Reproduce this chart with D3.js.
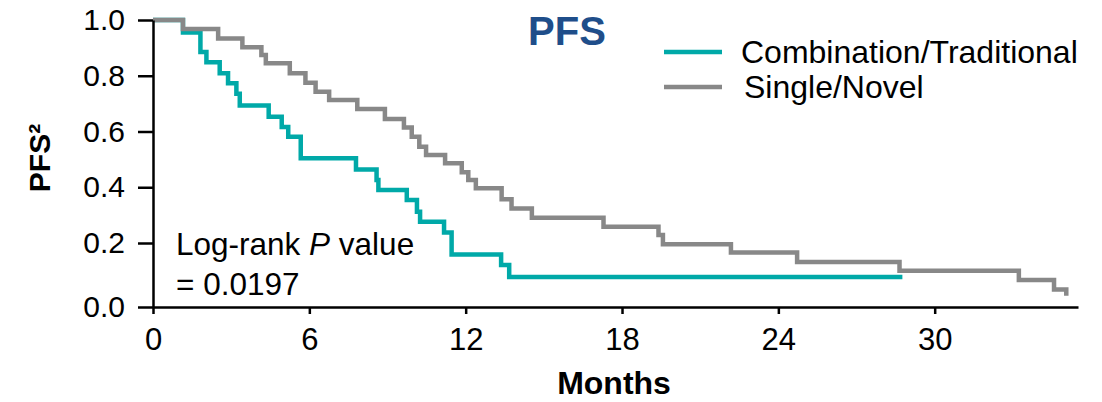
<!DOCTYPE html>
<html>
<head>
<meta charset="utf-8">
<script src="https://cdn.jsdelivr.net/npm/d3@7"></script>
<style>
    body { margin: 0; background: #fff; }
    svg { display: block; font-family: "Liberation Sans", Arial, sans-serif; }
</style>
</head>
<body>
<div id="chart"></div>
<script>
// tick labels
const xTicks = [0, 6, 12, 18, 24, 30];
const yTicks = [0, 0.2, 0.4, 0.6, 0.8, 1.0];

// series
const seriesNames = ['Combination/Traditional', 'Single/Novel'];
const seriesColors = ['#00a9a8', '#888888'];

// Kaplan-Meier steps (months, survival)
const combTimes = [0, 1.15, 1.82, 2.05, 2.56, 2.88, 3.20, 3.33, 4.44, 4.94, 5.19, 5.67,
    7.79, 8.58, 8.65, 9.74, 10.13, 10.25, 11.17, 11.46, 13.36, 13.67, 28.76];
const combSurv = [1, 0.955, 0.885, 0.848, 0.809, 0.773, 0.735, 0.693, 0.653, 0.616, 0.581, 0.504,
    0.464, 0.426, 0.390, 0.354, 0.312, 0.276, 0.238, 0.164, 0.131, 0.094, 0.094];

const singleTimes = [0, 1.15, 2.50, 3.43, 4.16, 4.33, 5.25, 5.85, 6.24, 6.76, 7.84, 8.90,
    9.63, 9.93, 10.22, 10.48, 11.21, 11.85, 12.10, 12.39, 13.38, 13.76, 14.54, 17.29,
    19.40, 19.57, 22.18, 24.72, 28.65, 33.23, 34.58, 35.05];
const singleSurv = [1, 0.968, 0.934, 0.902, 0.874, 0.845, 0.809, 0.775, 0.743, 0.713, 0.681, 0.645,
    0.614, 0.581, 0.545, 0.516, 0.486, 0.454, 0.426, 0.396, 0.357, 0.324, 0.291, 0.258,
    0.229, 0.196, 0.170, 0.141, 0.113, 0.084, 0.055, 0.035];

const width = 1102, height = 402;

const svg = d3.select('#chart')
    .append('svg')
    .attr('width', width)
    .attr('height', height);

const x = d3.scaleLinear().domain([0, 35.5]).range([153, 1078]);
// the original axis is squeezed between 0 and 0.2
const y = d3.scaleLinear().domain([0, 0.2, 1]).range([307, 243, 20]);

// Curves
const line = d3.line()
    .x(d => x(d[0]))
    .y(d => y(d[1]))
    .curve(d3.curveStepAfter);

const series = [
    d3.zip(combTimes, combSurv),
    d3.zip(singleTimes, singleSurv)
];

svg.append('g')
    .selectAll('path')
    .data(series)
    .enter()
    .append('path')
    .attr('d', d => line(d))
    .attr('fill', 'none')
    .attr('stroke', (d, i) => seriesColors[i])
    .attr('stroke-width', 4.5);

// X axis
const xAxis = svg.append('g')
    .attr('transform', `translate(0, ${y(0)})`)
    .call(d3.axisBottom(x)
        .tickValues(xTicks)
        .tickSize(7)
        .tickSizeOuter(0)
        .tickPadding(14)
        .tickFormat(d3.format('d')));

// Y axis
const yAxis = svg.append('g')
    .attr('transform', `translate(${x(0)}, 0)`)
    .call(d3.axisLeft(y)
        .tickValues(yTicks)
        .tickSize(15)
        .tickSizeOuter(0)
        .tickPadding(13)
        .tickFormat(d3.format('.1f')));

[xAxis, yAxis].forEach(ax => {
    ax.selectAll('path, line').attr('stroke', '#000').attr('stroke-width', 2.5);
    ax.selectAll('text').attr('fill', '#000').style('font-size', '31px');
});
yAxis.selectAll('text').style('font-size', '30px');

// Axis titles
svg.append('text')
    .attr('x', 614)
    .attr('y', 394)
    .attr('text-anchor', 'middle')
    .style('font-size', '32px')
    .style('font-weight', 'bold')
    .text('Months');

svg.append('text')
    .attr('transform', 'translate(50, 158) rotate(-90)')
    .attr('text-anchor', 'middle')
    .style('font-size', '30px')
    .style('font-weight', 'bold')
    .text('PFS²');

// Title
svg.append('text')
    .attr('x', 567)
    .attr('y', 45)
    .attr('text-anchor', 'middle')
    .attr('fill', '#1f4e8a')
    .style('font-size', '40px')
    .style('font-weight', 'bold')
    .text('PFS');

// Legend
const legend = svg.append('g')
    .selectAll('g')
    .data(seriesNames)
    .enter()
    .append('g')
    .attr('transform', (d, i) => `translate(664, ${52 + i * 35})`);

legend.append('line')
    .attr('x1', 0)
    .attr('x2', 58)
    .attr('stroke', (d, i) => seriesColors[i])
    .attr('stroke-width', 4.5);

legend.append('text')
    .attr('x', (d, i) => 77 + i * 3)
    .attr('y', 11)
    .style('font-size', '32px')
    .text(d => d);

// Log-rank annotation
const note = svg.append('text')
    .attr('x', 176)
    .attr('y', 255)
    .style('font-size', '31.5px');
note.append('tspan').text('Log-rank ');
note.append('tspan').style('font-style', 'italic').text('P');
note.append('tspan').text(' value');

svg.append('text')
    .attr('x', 176)
    .attr('y', 295)
    .style('font-size', '31.5px')
    .text('= 0.0197');
</script>
</body>
</html>
